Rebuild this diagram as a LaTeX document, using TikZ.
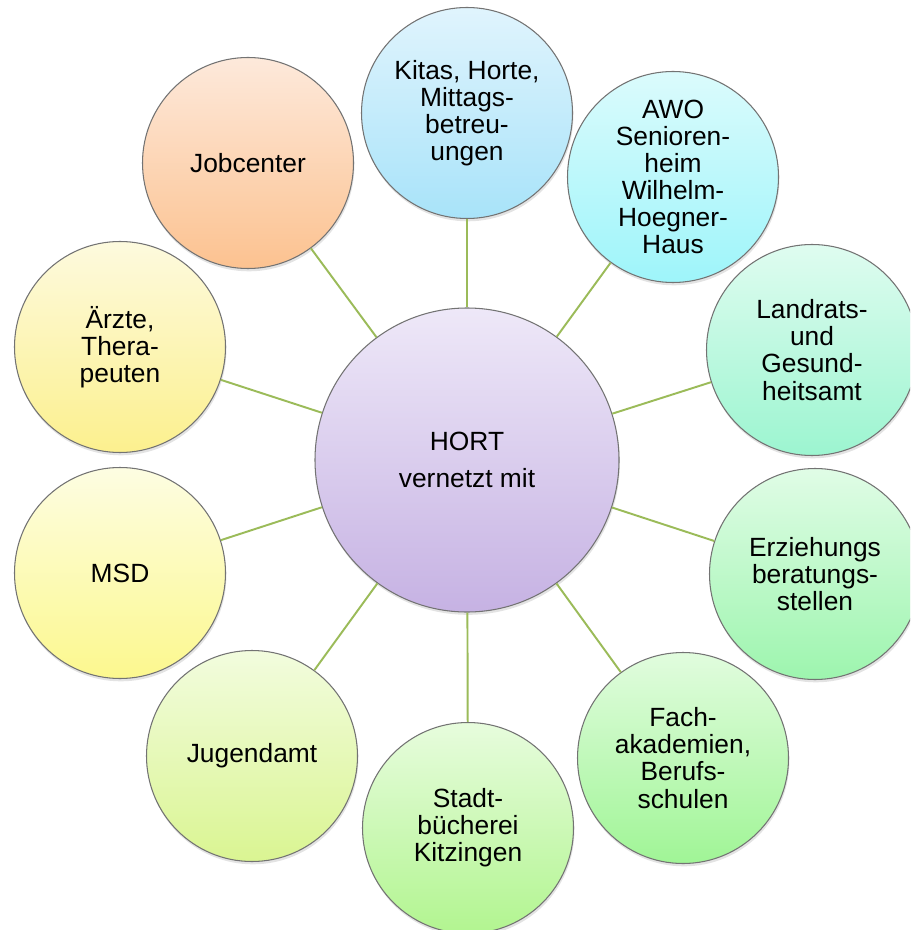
\documentclass[tikz,border=0pt]{standalone}
\usepackage{fontspec}
\setmainfont{Liberation Sans}
\usepackage{tikz}
\usetikzlibrary{shadows,backgrounds}
\definecolor{hortTop}{HTML}{EEE8F8}
\definecolor{hortBot}{HTML}{C6B2E3}
\definecolor{kitaTop}{HTML}{E0F4FD}
\definecolor{kitaBot}{HTML}{A8E3F9}
\definecolor{awoTop}{HTML}{DBFBFC}
\definecolor{awoBot}{HTML}{9EF5FA}
\definecolor{lraTop}{HTML}{DFFCF0}
\definecolor{lraBot}{HTML}{9CF5D0}
\definecolor{erzTop}{HTML}{E0FCE6}
\definecolor{erzBot}{HTML}{9DF5AE}
\definecolor{fachTop}{HTML}{E1FCDE}
\definecolor{fachBot}{HTML}{A0F596}
\definecolor{stbTop}{HTML}{E7FCDD}
\definecolor{stbBot}{HTML}{B2F590}
\definecolor{jugTop}{HTML}{F2FCDE}
\definecolor{jugBot}{HTML}{DAF592}
\definecolor{msdTop}{HTML}{FDFDE2}
\definecolor{msdBot}{HTML}{FCF88E}
\definecolor{arzTop}{HTML}{FDFADE}
\definecolor{arzBot}{HTML}{FCF08E}
\definecolor{jobTop}{HTML}{FDE9DB}
\definecolor{jobBot}{HTML}{FCC290}
\definecolor{linkgreen}{HTML}{9BBB59}
\tikzset{
  bubble/.style 2 args={circle, draw=black!55, line width=0.6pt, top color=#1, bottom color=#2, minimum size=4.22cm, inner sep=0pt, align=center, font=\fontsize{15}{15.4}\selectfont, drop shadow={shadow xshift=0.5pt, shadow yshift=-1.6pt, opacity=0.22}},
  hub/.style={circle, draw=black!55, line width=0.6pt, top color=hortTop, bottom color=hortBot, minimum size=6.08cm, inner sep=0pt, align=center, font=\fontsize{15}{15.4}\selectfont, drop shadow={shadow xshift=0.5pt, shadow yshift=-1.6pt, opacity=0.22}},
  link/.style={draw=linkgreen, line width=1.1pt}
}
\begin{document}
\begin{tikzpicture}
\clip (0,0) rectangle (18.2,-18.6);
\fill[white] (0,0) rectangle (18.2,-18.6);
\node[hub] (hort) at (9.34,-9.20) {HORT\\[5.6pt]vernetzt mit};
\node[bubble={kitaTop}{kitaBot}] (kitas) at (9.34,-2.26) {Kitas, Horte,\\Mittags-\\betreu-\\ungen};
\node[bubble={awoTop}{awoBot}] (awo) at (13.46,-3.54) {AWO\\Senioren-\\heim\\Wilhelm-\\Hoegner-\\Haus};
\node[bubble={lraTop}{lraBot}] (amt) at (16.24,-7.00) {Landrats-\\und\\Gesund-\\heitsamt};
\node[bubble={erzTop}{erzBot}] (erz) at (16.30,-11.48) {Erziehungs\\beratungs-\\stellen};
\node[bubble={fachTop}{fachBot}] (fach) at (13.66,-15.16) {Fach-\\akademien,\\Berufs-\\schulen};
\node[bubble={stbTop}{stbBot}] (stadt) at (9.36,-16.56) {Stadt-\\bücherei\\Kitzingen};
\node[bubble={jugTop}{jugBot}] (jugend) at (5.04,-15.12) {Jugendamt};
\node[bubble={msdTop}{msdBot}] (msd) at (2.40,-11.46) {MSD};
\node[bubble={arzTop}{arzBot}] (aerzte) at (2.40,-6.94) {Ärzte,\\Thera-\\peuten};
\node[bubble={jobTop}{jobBot}] (job) at (4.96,-3.26) {Jobcenter};
\draw[link] (hort) -- (kitas);
\draw[link] (hort) -- (awo);
\draw[link] (hort) -- (amt);
\draw[link] (hort) -- (erz);
\draw[link] (hort) -- (fach);
\draw[link] (hort) -- (stadt);
\draw[link] (hort) -- (jugend);
\draw[link] (hort) -- (msd);
\draw[link] (hort) -- (aerzte);
\draw[link] (hort) -- (job);
\end{tikzpicture}
\end{document}
